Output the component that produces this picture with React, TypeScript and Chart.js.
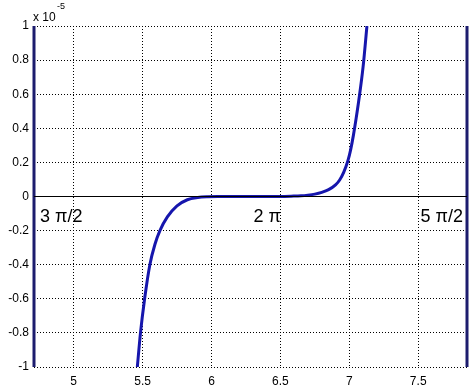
import React, { useEffect, useRef } from "react";
import { Chart, registerables } from "chart.js";

Chart.register(...registerables);

// x range: 3π/2 .. 5π/2 ; y values in units of 1e-5
const X_MIN = 4.712389;
const X_MAX = 7.853982;
const Y_MIN = -1;
const Y_MAX = 1;

const curveX = [
  5.461, 5.485, 5.515, 5.553, 5.59, 5.626, 5.68, 5.75, 5.825, 5.9, 5.97, 6.05,
  6.283, 6.5, 6.577, 6.65, 6.7, 6.75, 6.8, 6.85, 6.9, 6.93, 6.96, 6.99, 7.01, 7.03, 7.05, 7.07, 7.1, 7.128,
];
const curveY = [
  -1.01, -0.8, -0.6, -0.4, -0.28, -0.2, -0.12, -0.055, -0.019, -0.006, -0.0015, -0.0003,
  0, 0.0006, 0.002, 0.004, 0.008, 0.014, 0.024, 0.04, 0.068, 0.097, 0.143, 0.21, 0.275, 0.36, 0.46, 0.57, 0.76, 1.0,
];

const xTicks = [5, 5.5, 6, 6.5, 7, 7.5];
const yTicks = [-1, -0.8, -0.6, -0.4, -0.2, 0, 0.2, 0.4, 0.6, 0.8, 1];

const piLabels = ["3 π/2", "2 π", "5 π/2"];
const piPositions = [X_MIN, 6.283185, X_MAX];
const piAlign: CanvasTextAlign[] = ["left", "left", "right"];
const piOffset = [6, 3, -4];
const piLabelY = -0.15;

const exponentBase = "x 10";
const exponentPower = "-5";

const FONT = "'Liberation Sans', Arial, sans-serif";

export default function App() {
  const ref = useRef<HTMLCanvasElement | null>(null);

  useEffect(() => {
    if (!ref.current) return;

    const annotations = {
      id: "annotations",
      afterDatasetsDraw(chart: any) {
        const ctx = chart.ctx;
        const xs = chart.scales.x;
        const ys = chart.scales.y;
        ctx.save();
        ctx.fillStyle = "#000";
        ctx.textBaseline = "alphabetic";
        ctx.font = `18px ${FONT}`;
        for (let i = 0; i < piLabels.length; i++) {
          ctx.textAlign = piAlign[i];
          ctx.fillText(piLabels[i], xs.getPixelForValue(piPositions[i]) + piOffset[i], ys.getPixelForValue(piLabelY));
        }
        ctx.textAlign = "left";
        ctx.font = `12px ${FONT}`;
        ctx.fillText(exponentBase, 33, 21);
        ctx.font = `9px ${FONT}`;
        ctx.fillText(exponentPower, 57, 9);
        ctx.restore();
      },
    };

    const chart = new Chart(ref.current, {
      type: "line",
      data: {
        datasets: [
          {
            data: [
              { x: X_MIN, y: 0 },
              { x: X_MAX, y: 0 },
            ],
            borderColor: "#000",
            borderWidth: 1,
            pointRadius: 0,
          },
          {
            data: curveX.map((x, i) => ({ x, y: curveY[i] })),
            borderColor: "#1616ad",
            borderWidth: 3,
            pointRadius: 0,
            cubicInterpolationMode: "monotone",
            clip: 0,
          } as any,
          {
            data: [
              { x: X_MIN, y: Y_MIN },
              { x: X_MIN, y: Y_MAX },
            ],
            borderColor: "#1c1c6e",
            borderWidth: 3,
            pointRadius: 0,
            clip: false,
          } as any,
          {
            data: [
              { x: X_MAX, y: Y_MIN },
              { x: X_MAX, y: Y_MAX },
            ],
            borderColor: "#1c1c6e",
            borderWidth: 3,
            pointRadius: 0,
            clip: false,
          } as any,
        ],
      },
      options: {
        responsive: false,
        animation: false,
        devicePixelRatio: 1,
        layout: { padding: { top: 26, right: 8, left: 0, bottom: 0 } },
        plugins: { legend: { display: false }, tooltip: { enabled: false } },
        scales: {
          x: {
            type: "linear",
            min: X_MIN,
            max: X_MAX,
            afterBuildTicks: (s: any) => {
              s.ticks = xTicks.map((v) => ({ value: v }));
            },
            afterFit: (s: any) => {
              s.height = 22;
            },
            grid: { color: "#000", lineWidth: 1, drawTicks: false },
            border: { display: false, dash: [1, 2] },
            ticks: {
              padding: 7,
              color: "#000",
              font: { family: FONT, size: 12 },
              maxRotation: 0,
              callback: (v: any) => String(v),
            },
          },
          y: {
            type: "linear",
            min: Y_MIN,
            max: Y_MAX,
            afterBuildTicks: (s: any) => {
              s.ticks = yTicks.map((v) => ({ value: v }));
            },
            afterFit: (s: any) => {
              s.width = 34;
            },
            grid: { color: "#000", lineWidth: 1, drawTicks: false },
            border: { display: false, dash: [1, 2] },
            ticks: {
              padding: 5,
              color: "#000",
              font: { family: FONT, size: 12 },
              callback: (v: any) => String(v),
            },
          },
        },
      } as any,
      plugins: [annotations],
    });

    return () => chart.destroy();
  }, []);

  return (
    <div style={{ position: "fixed", left: 0, top: 0, width: 475, height: 389, background: "#fff" }}>
      <canvas ref={ref} width={475} height={389} style={{ width: 475, height: 389 }} />
    </div>
  );
}
